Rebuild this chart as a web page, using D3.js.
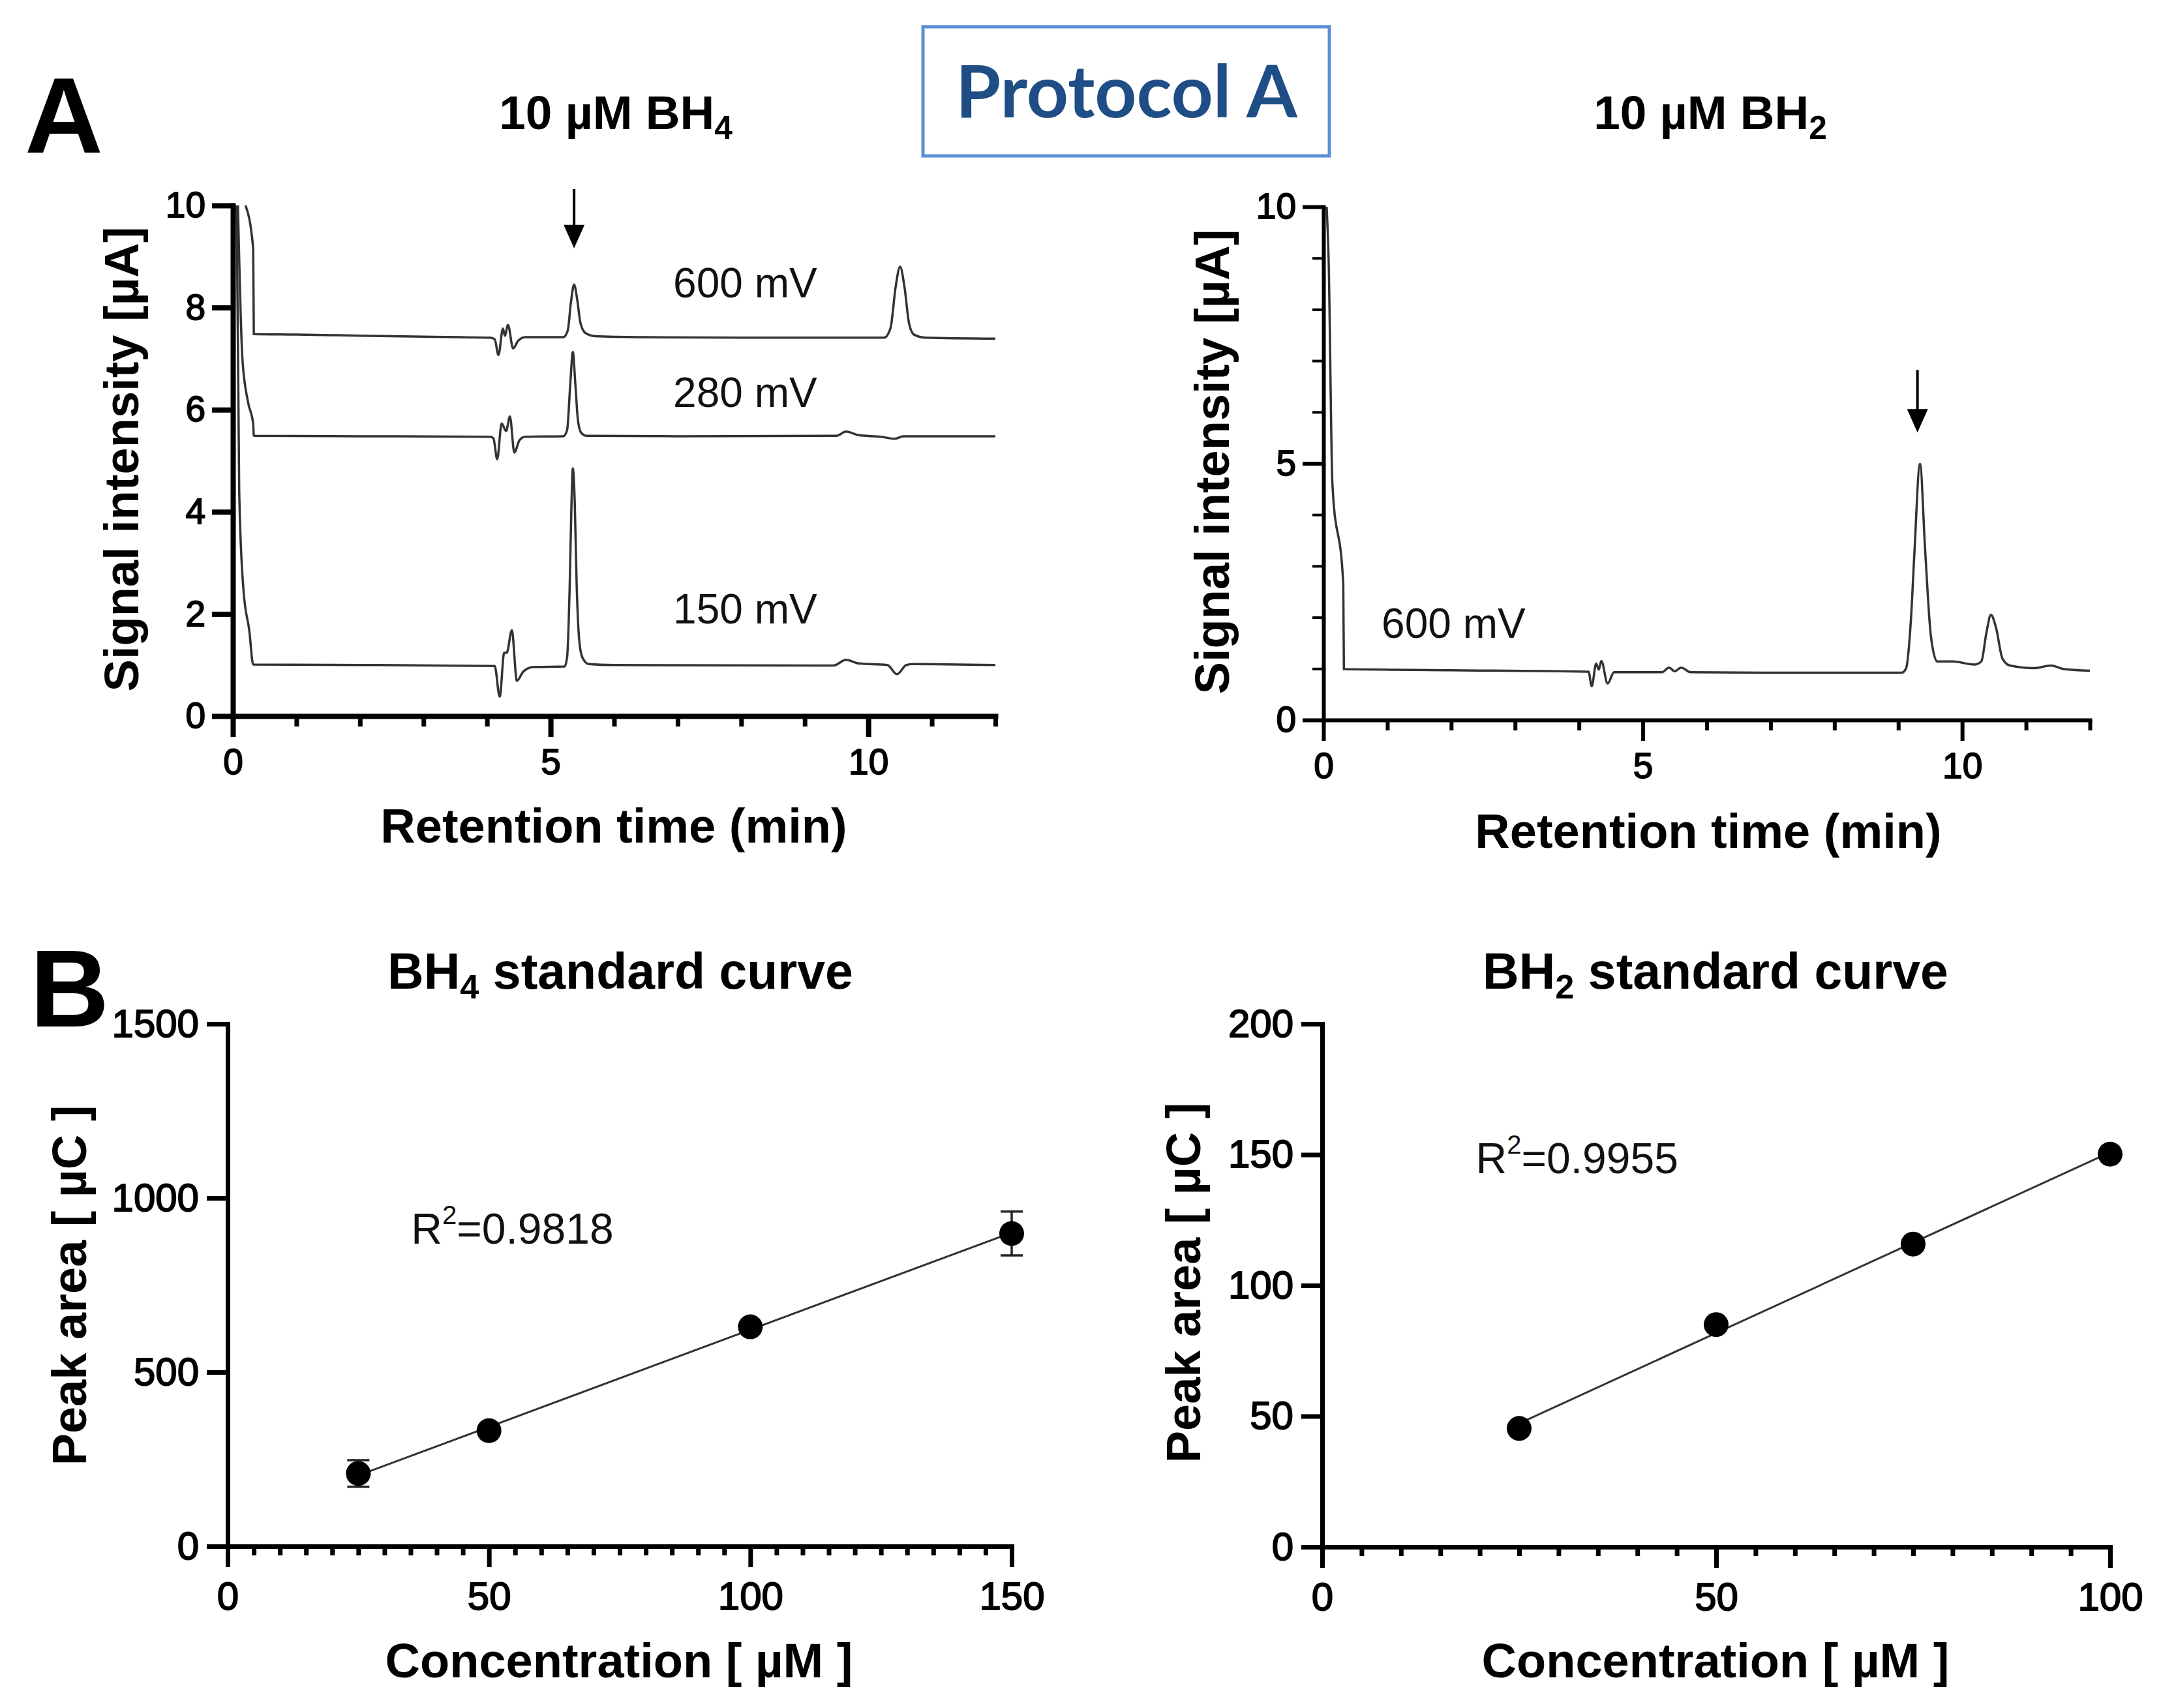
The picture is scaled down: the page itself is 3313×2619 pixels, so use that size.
<!DOCTYPE html>
<html>
<head>
<meta charset="utf-8">
<script src="https://cdn.jsdelivr.net/npm/d3@7"></script>
<style>
  html, body { margin: 0; padding: 0; background: #fff; }
  svg { display: block; }
</style>
</head>
<body>
<svg id="fig" width="3313" height="2619"></svg>
<script>
// chromatograms, [time (min), signal (uA)]
const bh4_600mV = [[0.2,10],[0.32,9.15],[0.33,7.48],[1,7.47],[2,7.45],[3,7.43],[4.05,7.41],[4.12,7.38],[4.18,7.07],[4.25,7.59],[4.28,7.45],[4.33,7.66],[4.41,7.2],[4.49,7.35],[4.6,7.42],[5.2,7.42],[5.27,7.55],[5.32,8.1],[5.37,8.45],[5.42,8.15],[5.47,7.7],[5.55,7.5],[5.7,7.44],[6.5,7.42],[8,7.41],[10.25,7.41],[10.35,7.6],[10.43,8.4],[10.5,8.8],[10.57,8.4],[10.64,7.7],[10.72,7.47],[10.9,7.41],[12,7.39]];
const bh4_280mV = [[0.08,10],[0.15,7.0],[0.24,6.14],[0.32,5.72],[0.33,5.49],[2,5.48],[4.05,5.47],[4.1,5.44],[4.16,5.03],[4.23,5.73],[4.3,5.58],[4.36,5.87],[4.43,5.16],[4.51,5.4],[4.6,5.47],[5.2,5.48],[5.26,5.6],[5.31,6.5],[5.35,7.13],[5.39,6.5],[5.43,5.8],[5.48,5.55],[5.56,5.49],[7,5.48],[9.5,5.49],[9.65,5.57],[9.85,5.5],[10.2,5.47],[10.42,5.43],[10.55,5.48],[12,5.48]];
const bh4_150mV = [[0.06,10],[0.1,4.4],[0.165,2.5],[0.26,1.66],[0.32,1.01],[2,1.0],[4.12,0.98],[4.2,0.38],[4.27,1.24],[4.31,1.24],[4.39,1.68],[4.47,0.69],[4.57,0.87],[4.73,0.96],[5.22,0.97],[5.26,1.15],[5.3,2.5],[5.33,4.2],[5.35,4.85],[5.38,4.2],[5.41,2.6],[5.45,1.5],[5.5,1.15],[5.6,1.02],[6,1.0],[9.45,0.99],[9.65,1.1],[9.85,1.03],[10.3,1.0],[10.45,0.82],[10.6,1.0],[10.7,1.02],[12,1.0]];
const bh2_600mV = [[0.05,10],[0.08,9.0],[0.14,4.6],[0.31,2.65],[0.32,0.99],[2,0.97],[4.15,0.94],[4.2,0.66],[4.27,1.1],[4.31,0.98],[4.35,1.15],[4.45,0.71],[4.55,0.93],[5.3,0.93],[5.41,1.02],[5.5,0.95],[5.6,1.02],[5.75,0.93],[7,0.92],[9.05,0.92],[9.12,1.0],[9.2,2.0],[9.25,3.2],[9.34,4.99],[9.42,3.32],[9.51,1.64],[9.61,1.14],[9.85,1.14],[10.19,1.08],[10.3,1.14],[10.38,1.7],[10.45,2.05],[10.53,1.8],[10.63,1.2],[10.75,1.06],[11.13,1.01],[11.39,1.06],[11.6,0.99],[12,0.96]];

const traceLabelsBH4 = [
  { text: "600 mV", t: 6.93, v: 8.2 },
  { text: "280 mV", t: 6.93, v: 6.05 },
  { text: "150 mV", t: 6.93, v: 1.81 },
];
const traceLabelsBH2 = [{ text: "600 mV", t: 0.91, v: 1.6 }];
const arrowBH4 = { t: 5.37, top: 10.32, tip: 9.16 };
const arrowBH2 = { t: 9.3, top: 6.82, tip: 5.6 };

// standard curves (sd 0 = bar hidden behind the marker)
const bh4Conc = [25, 50, 100, 150];
const bh4Area = [209, 332, 630, 898];
const bh4Sd = [38, 0, 0, 63];
const bh4R2 = "0.9818";
const bh2Conc = [25, 50, 75, 100];
const bh2Area = [45.3, 85, 115.8, 150.2];
const bh2Sd = [0, 0, 0, 0];
const bh2R2 = "0.9955";

const timeMajor = [0, 5, 10];
const timeMinor = [1, 2, 3, 4, 6, 7, 8, 9, 11, 12];
const bh4SignalTicks = [0, 2, 4, 6, 8, 10];
const bh2SignalTicks = [0, 5, 10];
const bh2SignalMinor = [1, 2, 3, 4, 6, 7, 8, 9];
const bh4ConcTicks = [0, 50, 100, 150];
const bh4AreaTicks = [0, 500, 1000, 1500];
const bh2ConcTicks = [0, 50, 100];
const bh2AreaTicks = [0, 50, 100, 150, 200];

const FONT = "'Liberation Sans', Arial, Helvetica, sans-serif";
const INK = "#000";
const TRACE = "#333";
const fmt = d3.format("d");

const svg = d3.select("#fig").attr("font-family", FONT);

function styleAxis(g, width, fontSize) {
  g.attr("font-family", FONT).attr("font-size", fontSize);
  g.select(".domain").attr("stroke", INK).attr("stroke-width", width).attr("stroke-linecap", "square");
  g.selectAll(".tick line").attr("stroke", INK).attr("stroke-width", width);
  g.selectAll(".tick text").attr("fill", INK)
    .attr("stroke", INK).attr("stroke-width", 1.8);
}

function drawAxes(x, y, o) {
  const [x0] = x.range();
  const [y0] = y.range();

  // minor ticks first
  if (o.xMinor) {
    svg.append("g").attr("transform", `translate(0,${y0})`)
      .call(d3.axisBottom(x).tickValues(o.xMinor).tickFormat("").tickSize(o.minorLen).tickSizeOuter(0))
      .call((g) => g.select(".domain").remove())
      .selectAll("line").attr("stroke", INK).attr("stroke-width", o.minorW);
  }
  if (o.yMinor) {
    svg.append("g").attr("transform", `translate(${x0},0)`)
      .call(d3.axisLeft(y).tickValues(o.yMinor).tickFormat("").tickSize(o.yMinorLen).tickSizeOuter(0))
      .call((g) => g.select(".domain").remove())
      .selectAll("line").attr("stroke", INK).attr("stroke-width", o.yMinorW);
  }

  svg.append("g").attr("transform", `translate(0,${y0})`)
    .call(d3.axisBottom(x).tickValues(o.xTicks).tickFormat(fmt).tickSize(o.majorLen).tickPadding(o.xPad).tickSizeOuter(0))
    .call((g) => styleAxis(g, o.w, o.fs));

  svg.append("g").attr("transform", `translate(${x0},0)`)
    .call(d3.axisLeft(y).tickValues(o.yTicks).tickFormat(fmt).tickSize(o.majorLen).tickPadding(o.yPad).tickSizeOuter(0))
    .call((g) => styleAxis(g, o.w, o.fs));
}

function titleWithSub(xc, yb, main, sub, rest, size) {
  const t = svg.append("text").attr("x", xc).attr("y", yb)
    .attr("text-anchor", "middle").attr("font-size", size)
    .attr("font-weight", "bold").attr("fill", INK);
  t.append("tspan").text(main);
  t.append("tspan").attr("font-size", size * 0.68).attr("dy", size * 0.2).text(sub);
  if (rest) t.append("tspan").attr("dy", -size * 0.2).text(rest);
}

function axisTitle(text, xc, yc, rotate) {
  svg.append("text")
    .attr("transform", `translate(${xc},${yc})` + (rotate ? " rotate(-90)" : ""))
    .attr("text-anchor", "middle")
    .attr("font-size", 74).attr("font-weight", "bold").attr("fill", INK)
    .text(text);
}

const line = (x, y) => d3.line().curve(d3.curveMonotoneX).x((d) => x(d[0])).y((d) => y(d[1]));

function drawArrow(x, y, a) {
  const ax = x(a.t), top = y(a.top), tip = y(a.tip);
  svg.append("line").attr("x1", ax).attr("x2", ax).attr("y1", top).attr("y2", tip - 20)
    .attr("stroke", INK).attr("stroke-width", 4);
  svg.append("path")
    .attr("d", `M${ax - 16},${tip - 36} L${ax + 16},${tip - 36} L${ax},${tip} Z`)
    .attr("fill", INK);
}

// ---------- panel letters & protocol box ----------
svg.append("text").attr("x", 38).attr("y", 234).attr("font-size", 166)
  .attr("font-weight", "bold").attr("fill", INK).text("A");
svg.append("text").attr("x", 46).attr("y", 1574).attr("font-size", 168)
  .attr("font-weight", "bold").attr("fill", INK).text("B");

svg.append("rect").attr("x", 1415).attr("y", 41).attr("width", 623).attr("height", 198)
  .attr("fill", "none").attr("stroke", "#5b8fd2").attr("stroke-width", 5);
svg.append("text").attr("x", 1727).attr("y", 180).attr("text-anchor", "middle")
  .attr("font-family", "Lato, 'Open Sans', sans-serif").attr("font-weight", "bold")
  .attr("font-size", 112).attr("fill", "#1f4d85").text("Protocol A");

// ---------- A left: 10 uM BH4 ----------
{
  const x = d3.scaleLinear().domain([0, 12]).range([357, 1526]);
  const y = d3.scaleLinear().domain([0, 10]).range([1098, 315]);
  const traces = [bh4_600mV, bh4_280mV, bh4_150mV];
  svg.append("g").selectAll("path").data(traces).join("path")
    .attr("d", line(x, y)).attr("fill", "none").attr("stroke", TRACE).attr("stroke-width", 3.5);
  drawAxes(x, y, { xTicks: timeMajor, xMinor: timeMinor, yTicks: bh4SignalTicks,
    w: 8, majorLen: 32, minorLen: 16, minorW: 7, xPad: 18, yPad: 10, fs: 55 });
  svg.append("g").selectAll("text").data(traceLabelsBH4).join("text")
    .attr("x", (d) => x(d.t)).attr("y", (d) => y(d.v))
    .attr("font-size", 64).attr("fill", "#111").text((d) => d.text);
  drawArrow(x, y, arrowBH4);
  titleWithSub(944, 198, "10 µM BH", "4", null, 73);
  axisTitle("Signal intensity [µA]", 212, 704, true);
  axisTitle("Retention time (min)", 941, 1292, false);
}

// ---------- A right: 10 uM BH2 ----------
{
  const x = d3.scaleLinear().domain([0, 12]).range([2029, 3204]);
  const y = d3.scaleLinear().domain([0, 10]).range([1104, 317]);
  svg.append("path").datum(bh2_600mV)
    .attr("d", line(x, y)).attr("fill", "none").attr("stroke", TRACE).attr("stroke-width", 3.5);
  drawAxes(x, y, { xTicks: timeMajor, xMinor: timeMinor, yTicks: bh2SignalTicks, yMinor: bh2SignalMinor,
    yMinorLen: 17, yMinorW: 4, w: 6, majorLen: 32, minorLen: 16, minorW: 6, xPad: 18, yPad: 10, fs: 55 });
  svg.append("g").selectAll("text").data(traceLabelsBH2).join("text")
    .attr("x", (d) => x(d.t)).attr("y", (d) => y(d.v))
    .attr("font-size", 64).attr("fill", "#111").text((d) => d.text);
  drawArrow(x, y, arrowBH2);
  titleWithSub(2622, 198, "10 µM BH", "2", null, 73);
  axisTitle("Signal intensity [µA]", 1884, 708, true);
  axisTitle("Retention time (min)", 2619, 1300, false);
}

// ---------- B: standard curves ----------
function fit(xs, ys) {
  const mx = d3.mean(xs), my = d3.mean(ys);
  const sxy = d3.sum(xs, (v, i) => (v - mx) * (ys[i] - my));
  const sxx = d3.sum(xs, (v) => (v - mx) * (v - mx));
  const b = sxy / sxx;
  return (v) => my + b * (v - mx);
}

function standardCurve(o) {
  const { x, y, conc, area, sd } = o;
  const f = fit(conc, area);
  const x1 = d3.min(conc), x2 = d3.max(conc);
  drawAxes(x, y, { xTicks: o.xTicks, xMinor: o.xMinor, yTicks: o.yTicks,
    w: 7, majorLen: 32, minorLen: 14, minorW: 7, xPad: 22, yPad: 12, fs: 60 });

  svg.append("line")
    .attr("x1", x(x1)).attr("y1", y(f(x1))).attr("x2", x(x2)).attr("y2", y(f(x2)))
    .attr("stroke", TRACE).attr("stroke-width", 3);

  const pts = conc.map((c, i) => ({ c, a: area[i], s: sd[i] }));
  const bars = pts.filter((d) => d.s > 0);
  const eb = svg.append("g").attr("stroke", "#222").attr("stroke-width", 3.5);
  eb.selectAll(".v").data(bars).join("line")
    .attr("x1", (d) => x(d.c)).attr("x2", (d) => x(d.c))
    .attr("y1", (d) => y(d.a - d.s)).attr("y2", (d) => y(d.a + d.s));
  eb.selectAll(".cap").data(bars.flatMap((d) => [{ c: d.c, v: d.a - d.s }, { c: d.c, v: d.a + d.s }])).join("line")
    .attr("x1", (d) => x(d.c) - 17).attr("x2", (d) => x(d.c) + 17)
    .attr("y1", (d) => y(d.v)).attr("y2", (d) => y(d.v));
  svg.append("g").selectAll("circle").data(pts).join("circle")
    .attr("cx", (d) => x(d.c)).attr("cy", (d) => y(d.a)).attr("r", 19).attr("fill", INK);

  const t = svg.append("text").attr("x", x(o.r2At[0])).attr("y", y(o.r2At[1]))
    .attr("font-size", 66).attr("fill", "#111");
  t.append("tspan").text("R");
  t.append("tspan").attr("font-size", 40).attr("dy", -30).text("2");
  t.append("tspan").attr("dy", 30).text("=" + o.r2);
}

{
  const x = d3.scaleLinear().domain([0, 150]).range([349, 1551]);
  const y = d3.scaleLinear().domain([0, 1500]).range([2371, 1570]);
  standardCurve({ x, y, conc: bh4Conc, area: bh4Area, sd: bh4Sd, r2: bh4R2, r2At: [35.1, 869],
    xTicks: bh4ConcTicks, yTicks: bh4AreaTicks, xMinor: d3.range(5, 150, 5).filter((v) => v % 50) });
  titleWithSub(951, 1516, "BH", "4", " standard curve", 77);
  axisTitle("Peak area [ µC ]", 132, 1971, true);
  axisTitle("Concentration [ µM ]", 949, 2572, false);
}

{
  const x = d3.scaleLinear().domain([0, 100]).range([2027, 3235]);
  const y = d3.scaleLinear().domain([0, 200]).range([2372, 1570]);
  standardCurve({ x, y, conc: bh2Conc, area: bh2Area, sd: bh2Sd, r2: bh2R2, r2At: [19.5, 143],
    xTicks: bh2ConcTicks, yTicks: bh2AreaTicks, xMinor: d3.range(5, 100, 5).filter((v) => v % 50) });
  titleWithSub(2630, 1516, "BH", "2", " standard curve", 77);
  axisTitle("Peak area [ µC ]", 1840, 1967, true);
  axisTitle("Concentration [ µM ]", 2630, 2572, false);
}
</script>
</body>
</html>
